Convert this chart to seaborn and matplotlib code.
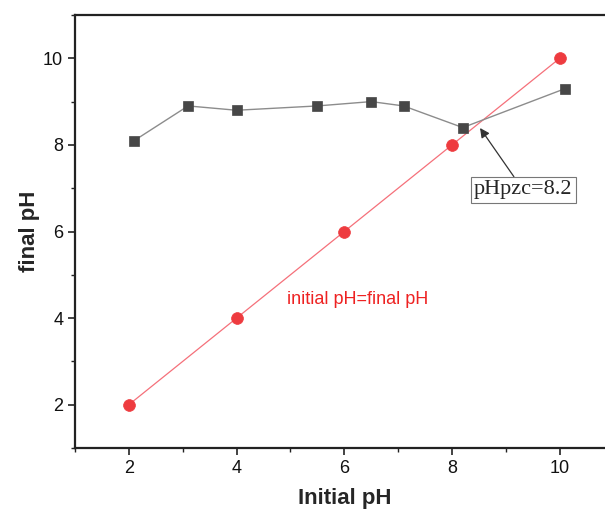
import matplotlib
matplotlib.use("Agg")
import matplotlib.pyplot as plt
import seaborn as sns
import pandas as pd
from matplotlib.ticker import MultipleLocator

initial_ph = [2.1, 3.1, 4.0, 5.5, 6.5, 7.1, 8.2, 10.1]
final_ph = [8.1, 8.9, 8.8, 8.9, 9.0, 8.9, 8.4, 9.3]
ref_x = [2, 4, 6, 8, 10]
ref_y = [2, 4, 6, 8, 10]

sns.set_style("ticks")
plt.rcParams['font.family'] = ['Liberation Sans', 'DejaVu Sans']

fig = plt.figure(figsize=(6.05, 5.11), dpi=100)
W, H = 605, 511
ax = fig.add_axes([75 / W, (H - 448) / H, (613.6 - 75) / W, (448 - 15) / H])

df1 = pd.DataFrame({"x": initial_ph, "y": final_ph})
df2 = pd.DataFrame({"x": ref_x, "y": ref_y})

sns.lineplot(data=df2, x="x", y="y", ax=ax, color="#f5707a", linewidth=0.9,
             marker="o", markersize=8.5, markerfacecolor="#ee3b3f",
             markeredgecolor="#ee3b3f", markeredgewidth=0.5)
sns.lineplot(data=df1, x="x", y="y", ax=ax, color="#8c8c8c", linewidth=1.0,
             marker="s", markersize=7.3, markerfacecolor="#474747",
             markeredgecolor="#474747", markeredgewidth=0.5)

ax.set_xlim(1, 11)
ax.set_ylim(1, 11)
ax.xaxis.set_major_locator(MultipleLocator(2))
ax.xaxis.set_minor_locator(MultipleLocator(1))
ax.yaxis.set_major_locator(MultipleLocator(2))
ax.yaxis.set_minor_locator(MultipleLocator(1))
ax.tick_params(which="major", direction="out", length=5, width=1.2,
               labelsize=13, color="#222222", labelcolor="#111111")
ax.tick_params(which="minor", direction="out", length=3, width=1.0, color="#222222")

for s in ["left", "bottom", "top"]:
    ax.spines[s].set_linewidth(1.6)
    ax.spines[s].set_color("#222222")
ax.spines["right"].set_visible(False)

ax.set_xlabel("Initial pH", fontsize=16, fontweight="bold", labelpad=8)
ax.set_ylabel("final pH", fontsize=16, fontweight="bold", labelpad=2)

ax.text(6.24, 4.42, "initial pH=final pH", color="#ee2222", fontsize=13,
        ha="center", va="center")

ax.annotate("pHpzc=8.2", xy=(8.52, 8.39), xytext=(9.32, 6.96),
            fontsize=16, family=["Liberation Serif", "DejaVu Serif"],
            ha="center", va="center",
            bbox=dict(boxstyle="square,pad=0.15", fc="white", ec="#777777", lw=0.8),
            arrowprops=dict(arrowstyle="-|>", color="#333333", lw=0.9,
                            mutation_scale=14, shrinkA=0, shrinkB=0))

fig.savefig("out.png", dpi=100)
